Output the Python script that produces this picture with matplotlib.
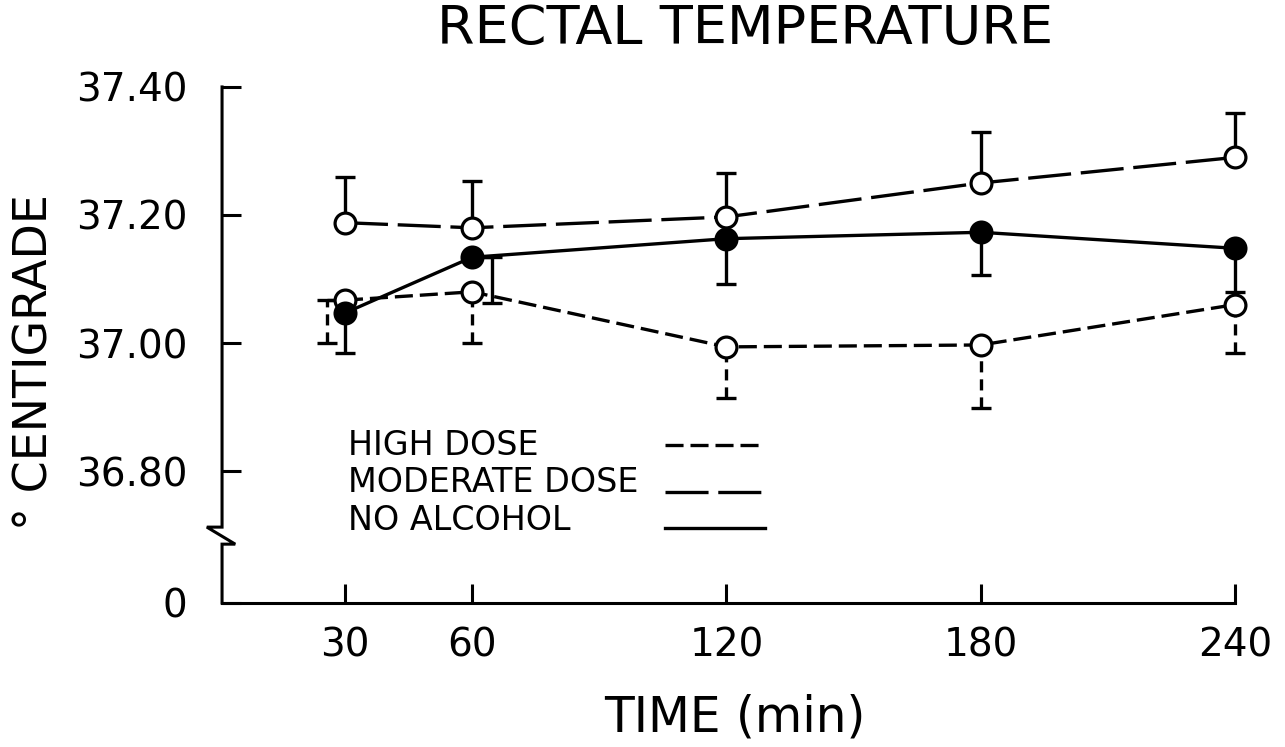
import matplotlib
matplotlib.use("Agg")
import matplotlib.pyplot as plt
import numpy as np

plt.rcParams['font.family'] = ['DejaVu Sans']
plt.rcParams['lines.scale_dashes'] = False

# data (minutes, deg C)
times = [30, 60, 120, 180, 240]
high_dose = [37.067, 37.080, 36.994, 36.997, 37.060]
high_err = [0.067, 0.080, 0.080, 0.099, 0.075]      # drawn downward
high_shift = [-4.2, 0, 0, 0, 0]                     # bar drawn beside the point
moderate_dose = [37.188, 37.180, 37.197, 37.250, 37.290]
moderate_err = [0.072, 0.073, 0.069, 0.080, 0.070]  # drawn upward
no_alcohol = [37.047, 37.134, 37.163, 37.173, 37.148]
no_alcohol_err = [0.062, 0.072, 0.070, 0.067, 0.068]  # drawn downward
no_alcohol_shift = [0, 4.7, 0, 0, 0]

ytick_vals = [36.80, 37.00, 37.20, 37.40]
ytick_labels = ["36.80", "37.00", "37.20", "37.40"]
y_bottom = 36.594   # the "0" end of the broken axis

short_dash = (0, (13, 5))
long_dash = (0, (31, 7))

fig = plt.figure(figsize=(12.85, 7.47), dpi=100)
ax = fig.add_axes([0.1728, 0.1928, 0.7883, 0.6908])

lw = 2.4
ms = 15

def draw_series(y, ls, face, err, up, shift, bar_ls):
    t = np.array(times, dtype=float)
    y = np.array(y)
    err = np.array(err)
    xb = t + np.array(shift)
    lower = np.zeros_like(err) if up else err
    upper = err if up else np.zeros_like(err)
    eb = ax.errorbar(xb, y, yerr=[lower, upper], fmt='none', ecolor='black',
                     elinewidth=lw, capsize=7.5, capthick=lw, zorder=2)
    for c in eb[2]:
        c.set_linestyle(bar_ls)
        c.set_clip_on(False)
    for c in eb[1]:
        c.set_clip_on(False)
    # short connector for bars drawn beside their point
    for xi, bi, yi in zip(t, xb, y):
        if bi != xi:
            ax.plot([bi, xi], [yi, yi], color='black', lw=lw, ls=bar_ls, zorder=2)
    ax.plot(t, y, color='black', lw=lw, ls=ls, zorder=3, clip_on=False)
    ax.plot(t, y, 'o', ms=ms, mfc=face, mec='black', mew=2.3, ls='none',
            zorder=4, clip_on=False)

draw_series(high_dose, short_dash, 'white', high_err, False, high_shift, (0, (8, 5)))
draw_series(moderate_dose, long_dash, 'white', moderate_err, True, [0] * 5, 'solid')
draw_series(no_alcohol, 'solid', 'black', no_alcohol_err, False, no_alcohol_shift, 'solid')

ax.set_xlim(1, 240)
ax.set_ylim(y_bottom, 37.40)
ax.set_xticks(times)
ax.set_xticklabels([str(t) for t in times])
ax.set_yticks([y_bottom] + ytick_vals)
ax.set_yticklabels(["0"] + ytick_labels)

ax.tick_params(axis='both', direction='in', length=14, width=2.2, labelsize=28)
ax.tick_params(axis='y', pad=25)
ax.tick_params(axis='x', pad=17)

for s in ['top', 'right', 'left']:
    ax.spines[s].set_visible(False)
ax.spines['bottom'].set_linewidth(2.2)

# broken y axis with the zigzag
brk_x = [0, 0, -0.015, 0.013, 0, 0]
brk_y = [1, 0.147, 0.147, 0.114, 0.114, 0]
ax.plot(brk_x, brk_y, color='black', lw=2.2, transform=ax.transAxes,
        clip_on=False, solid_joinstyle='miter')

# legend written out by hand, labels left and line samples to the right
leg_labels = ["HIGH DOSE", "MODERATE DOSE", "NO ALCOHOL"]
leg_styles = [short_dash, long_dash, 'solid']
leg_text_y = [0.306, 0.2326, 0.159]
leg_line_y = [0.306, 0.215, 0.145]
for lab, st, ty, ly in zip(leg_labels, leg_styles, leg_text_y, leg_line_y):
    ax.text(0.1244, ty, lab, transform=ax.transAxes, fontsize=24,
            va='center', ha='left')
    ax.plot([0.437, 0.536], [ly, ly], color='black', lw=lw, ls=st,
            transform=ax.transAxes)

fig.text(0.58, 0.961, "RECTAL TEMPERATURE", fontsize=39, ha='center', va='center')
fig.text(0.572, 0.039, "TIME (min)", fontsize=35, ha='center', va='center')
fig.text(0.027, 0.515, "° CENTIGRADE", fontsize=33, rotation=90,
         ha='center', va='center')

fig.savefig("out.png", dpi=100, facecolor='white')
